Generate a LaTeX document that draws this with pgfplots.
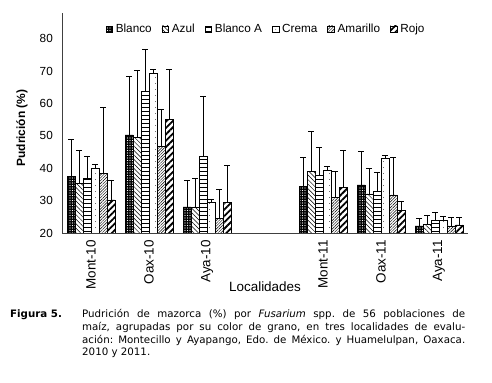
\documentclass[border=0pt]{standalone}
\usepackage{fontspec}
\setmainfont{Liberation Sans}
\newfontfamily\capfont{DejaVu Sans}
\usepackage{pgfplots}
\pgfplotsset{compat=1.18}
\usetikzlibrary{patterns.meta}
\pgfplotsset{
  sq/.style={legend image code/.code={\draw[##1] (0bp,-3.4bp) rectangle (6.7bp,3.3bp);}},
}
\begin{document}
\begin{tikzpicture}
\path[use as bounding box] (0,0) rectangle (492bp,383bp);
\begin{axis}[
  at={(62bp,150bp)}, anchor=south west,
  scale only axis, width=406bp, height=220bp,
  xmin=-0.5, xmax=6.5, ymin=20, ymax=88,
  axis x line*=bottom, axis y line*=left,
  axis line style={black!75, line width=0.8pt},
  xtick={0,1,2,4,5,6},
  xticklabels={Mont-10,Oax-10,Aya-10,Mont-11,Oax-11,Aya-11},
  ytick={20,30,...,80},
  /pgf/number format/assume math mode=true,
  major tick length=0pt,
  x tick label style={rotate=90, anchor=east, inner xsep=7bp, font=\fontsize{13.5}{16}\selectfont},
  y tick label style={inner xsep=9bp, font=\fontsize{11.8}{14}\selectfont},
  xlabel={Localidades},
  xlabel style={at={(axis description cs:0.5,-0.245)}, anchor=center, font=\fontsize{13.5}{16}\selectfont},
  ylabel={Pudrición (\%)},
  ylabel style={at={(axis description cs:-0.0985,0.477)}, anchor=center, font=\bfseries\fontsize{12}{14}\selectfont},
  legend style={at={(axis description cs:0.5025,0.927)}, anchor=center, draw=none, fill=none,
    font=\fontsize{11.8}{14}\selectfont,
    /tikz/every odd column/.append style={column sep=1bp},
    /tikz/every even column/.append style={column sep=8bp}},
  legend columns=6,
  legend cell align=left,
  ybar, bar width=8bp,
  error bars/y dir=plus, error bars/y explicit,
  error bars/error bar style={black, line width=0.7pt},
  error bars/error mark options={black, mark size=3bp, line width=0.7pt, rotate=90},
]
\addplot[draw=black, line width=0.5pt, fill=black, postaction={pattern={Dots[distance=2.5bp, radius=0.55bp]}, pattern color=white}, bar shift=-20bp, sq]
coordinates {(0,37.4) +- (0,11.6) (1,50.3) +- (0,18.1) (2,28.1) +- (0,8.1) (4,34.3) +- (0,9.0) (5,34.9) +- (0,10.3) (6,22.2) +- (0,2.3)};
\addlegendentry{Blanco}
\addplot[draw=black, line width=0.5pt, fill=white, postaction={pattern={Lines[angle=-45, distance=3.2bp, line width=0.5bp]}, pattern color=black}, bar shift=-12bp, sq]
coordinates {(0,35.4) +- (0,10.1) (1,49.6) +- (0,20.6) (2,28.1) +- (0,8.8) (4,39.0) +- (0,12.4) (5,32.1) +- (0,7.9) (6,22.7) +- (0,2.9)};
\addlegendentry{Azul}
\addplot[draw=black, line width=0.5pt, fill=white, postaction={pattern={Lines[angle=0, distance=4bp, line width=0.5bp]}, pattern color=black}, bar shift=-4bp, sq]
coordinates {(0,36.9) +- (0,6.9) (1,63.7) +- (0,13.0) (2,43.6) +- (0,18.6) (4,38.0) +- (0,8.5) (5,32.8) +- (0,5.9) (6,24.0) +- (0,2.3)};
\addlegendentry{Blanco A}
\addplot[draw=black, line width=0.5pt, fill=white, postaction={pattern={Dots[distance=6bp, radius=0.45bp]}, pattern color=black}, bar shift=4bp, sq]
coordinates {(0,40.0) +- (0,1.3) (1,69.4) +- (0,1.1) (2,29.5) +- (0,0.9) (4,39.5) +- (0,1.0) (5,43.1) +- (0,1.0) (6,23.8) +- (0,1.2)};
\addlegendentry{Crema}
\addplot[draw=black, line width=0.5pt, fill=white, postaction={pattern={Lines[angle=45, distance=2bp, line width=0.45bp]}, pattern color=black}, bar shift=12bp, sq]
coordinates {(0,38.5) +- (0,20.4) (1,46.7) +- (0,11.4) (2,24.5) +- (0,9.0) (4,31.0) +- (0,8.0) (5,31.8) +- (0,11.6) (6,22.2) +- (0,2.5)};
\addlegendentry{Amarillo}
\addplot[draw=black, line width=0.5pt, fill=white, postaction={pattern={Lines[angle=45, distance=4.5bp, line width=1.8bp]}, pattern color=black}, bar shift=20bp, sq]
coordinates {(0,30.2) +- (0,6.2) (1,55.2) +- (0,15.3) (2,29.5) +- (0,11.3) (4,34.1) +- (0,11.4) (5,27.1) +- (0,2.8) (6,22.5) +- (0,2.2)};
\addlegendentry{Rojo}
\end{axis}
\node[anchor=base west, inner sep=0pt, font=\capfont\bfseries\fontsize{10.3}{12.7}\selectfont] at (10bp,65bp) {Figura 5.};
\node[anchor=base west, inner sep=0pt, text width=383bp, align=justify, font=\capfont\fontsize{10.3}{12.7}\selectfont] at (82bp,65bp)
{\frenchspacing\tolerance=9999\hyphenpenalty=10000 Pudrición de mazorca (\%) por \textit{Fusarium} spp. de 56 poblaciones de\linebreak maíz, agrupadas por su color de grano, en tres localidades de evalu-\linebreak ación: Montecillo y Ayapango, Edo. de México. y Huamelulpan, Oaxaca.\linebreak 2010 y 2011.};
\end{tikzpicture}
\end{document}
